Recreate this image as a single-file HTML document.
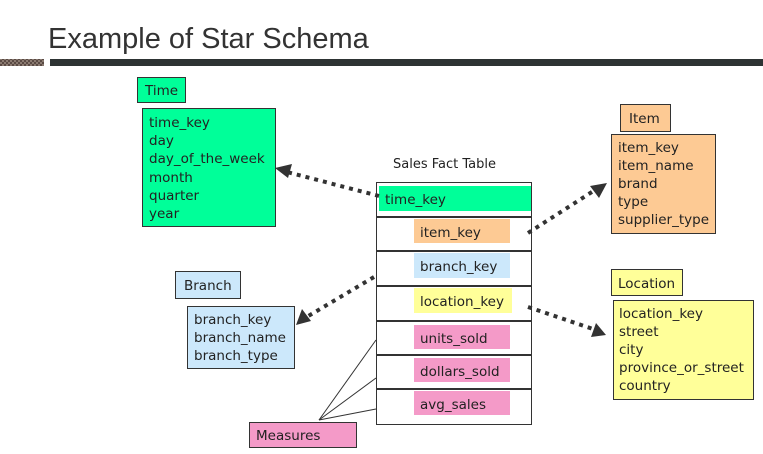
<!DOCTYPE html>
<html><head><meta charset="utf-8"><style>
html,body{margin:0;padding:0;background:#fff;}
svg{display:block;}
text{font-family:"DejaVu Sans","Liberation Sans",sans-serif;font-size:13.5px;fill:#222;}
</style></head><body>
<svg width="763" height="454" viewBox="0 0 763 454" xmlns="http://www.w3.org/2000/svg">
<defs>
<pattern id="h" width="4" height="4" patternUnits="userSpaceOnUse">
<rect width="4" height="4" fill="#8a7a70"/><rect width="2" height="2" fill="#5a4a44"/><rect x="2" y="2" width="2" height="2" fill="#5a4a44"/>
</pattern>
</defs>
<text x="48" y="48" style="font-family:'Liberation Sans',sans-serif;font-size:29px;fill:#333">Example of Star Schema</text>
<rect x="0" y="59" width="44" height="7" fill="url(#h)"/>
<rect x="50" y="59" width="713" height="7" fill="#2d3333"/>

<!-- Time -->
<rect x="137.5" y="77.5" width="48" height="25" fill="#00ff99" stroke="#333"/>
<text x="145" y="95">Time</text>
<rect x="142.5" y="108.5" width="133" height="118" fill="#00ff99" stroke="#333"/>
<text x="149" y="127">time_key</text><text x="149" y="145">day</text><text x="149" y="163">day_of_the_week</text>
<text x="149" y="182">month</text><text x="149" y="200">quarter</text><text x="149" y="218">year</text>

<!-- Branch -->
<rect x="175.5" y="271.5" width="65" height="27" fill="#cce8fb" stroke="#333"/>
<text x="184" y="290">Branch</text>
<rect x="187.5" y="306.5" width="107" height="62" fill="#cce8fb" stroke="#333"/>
<text x="194" y="324">branch_key</text><text x="194" y="342">branch_name</text><text x="194" y="360">branch_type</text>

<!-- Measures -->
<rect x="249.5" y="422.5" width="107" height="25" fill="#f49ac8" stroke="#333"/>
<text x="256" y="440">Measures</text>

<!-- Item -->
<rect x="620.5" y="104.5" width="50" height="27" fill="#fdca94" stroke="#333"/>
<text x="629" y="123">Item</text>
<rect x="611.5" y="134.5" width="104" height="99" fill="#fdca94" stroke="#333"/>
<text x="618" y="152">item_key</text><text x="618" y="170">item_name</text><text x="618" y="188">brand</text>
<text x="618" y="206">type</text><text x="618" y="224">supplier_type</text>

<!-- Location -->
<rect x="611.5" y="269.5" width="71" height="26" fill="#ffff99" stroke="#333"/>
<text x="618" y="288">Location</text>
<rect x="613.5" y="300.5" width="140" height="99" fill="#ffff99" stroke="#333"/>
<text x="619" y="318">location_key</text><text x="619" y="336">street</text><text x="619" y="354">city</text>
<text x="619" y="372">province_or_street</text><text x="619" y="390">country</text>

<!-- Fact table -->
<text x="393" y="168" style="font-size:13px">Sales Fact Table</text>
<rect x="376.5" y="182.5" width="155" height="242" fill="#fff" stroke="#333"/>
<g stroke="#333" stroke-width="2">
<line x1="377" y1="217" x2="531" y2="217"/><line x1="377" y1="251" x2="531" y2="251"/>
<line x1="377" y1="286" x2="531" y2="286"/><line x1="377" y1="321" x2="531" y2="321"/>
<line x1="377" y1="355" x2="531" y2="355"/><line x1="377" y1="389" x2="531" y2="389"/>
</g>
<rect x="379" y="186" width="152" height="25" fill="#00ff99"/><text x="385" y="204">time_key</text>
<rect x="414" y="219" width="96" height="24" fill="#fdca94"/><text x="420" y="237">item_key</text>
<rect x="414" y="253" width="96" height="25" fill="#cce8fb"/><text x="420" y="271">branch_key</text>
<rect x="414" y="288" width="98" height="25" fill="#ffff99"/><text x="420" y="306">location_key</text>
<rect x="414" y="325" width="96" height="24" fill="#f49ac8"/><text x="420" y="343">units_sold</text>
<rect x="414" y="358" width="96" height="24" fill="#f49ac8"/><text x="420" y="376">dollars_sold</text>
<rect x="414" y="391" width="96" height="24" fill="#f49ac8"/><text x="420" y="409">avg_sales</text>

<!-- measures lines -->
<g stroke="#333" stroke-width="1">
<line x1="319" y1="420" x2="376" y2="340"/><line x1="319" y1="420" x2="376" y2="378"/><line x1="319" y1="420" x2="376" y2="409"/>
</g>

<!-- dotted arrows -->
<g stroke="#333" stroke-width="4" stroke-dasharray="4 5" fill="none">
<line x1="379" y1="196" x2="287" y2="172"/>
<line x1="528" y1="233" x2="595" y2="190"/>
<line x1="374" y1="277" x2="305" y2="318"/>
<line x1="528" y1="307" x2="596" y2="330"/>
</g>
<g fill="#333">
<polygon points="275,168 292,164 288,178"/>
<polygon points="607,183 599,198 590,186"/>
<polygon points="296,325 302,309 311,321"/>
<polygon points="606,335 591,337 596,323"/>
</g>
</svg>
</body></html>
